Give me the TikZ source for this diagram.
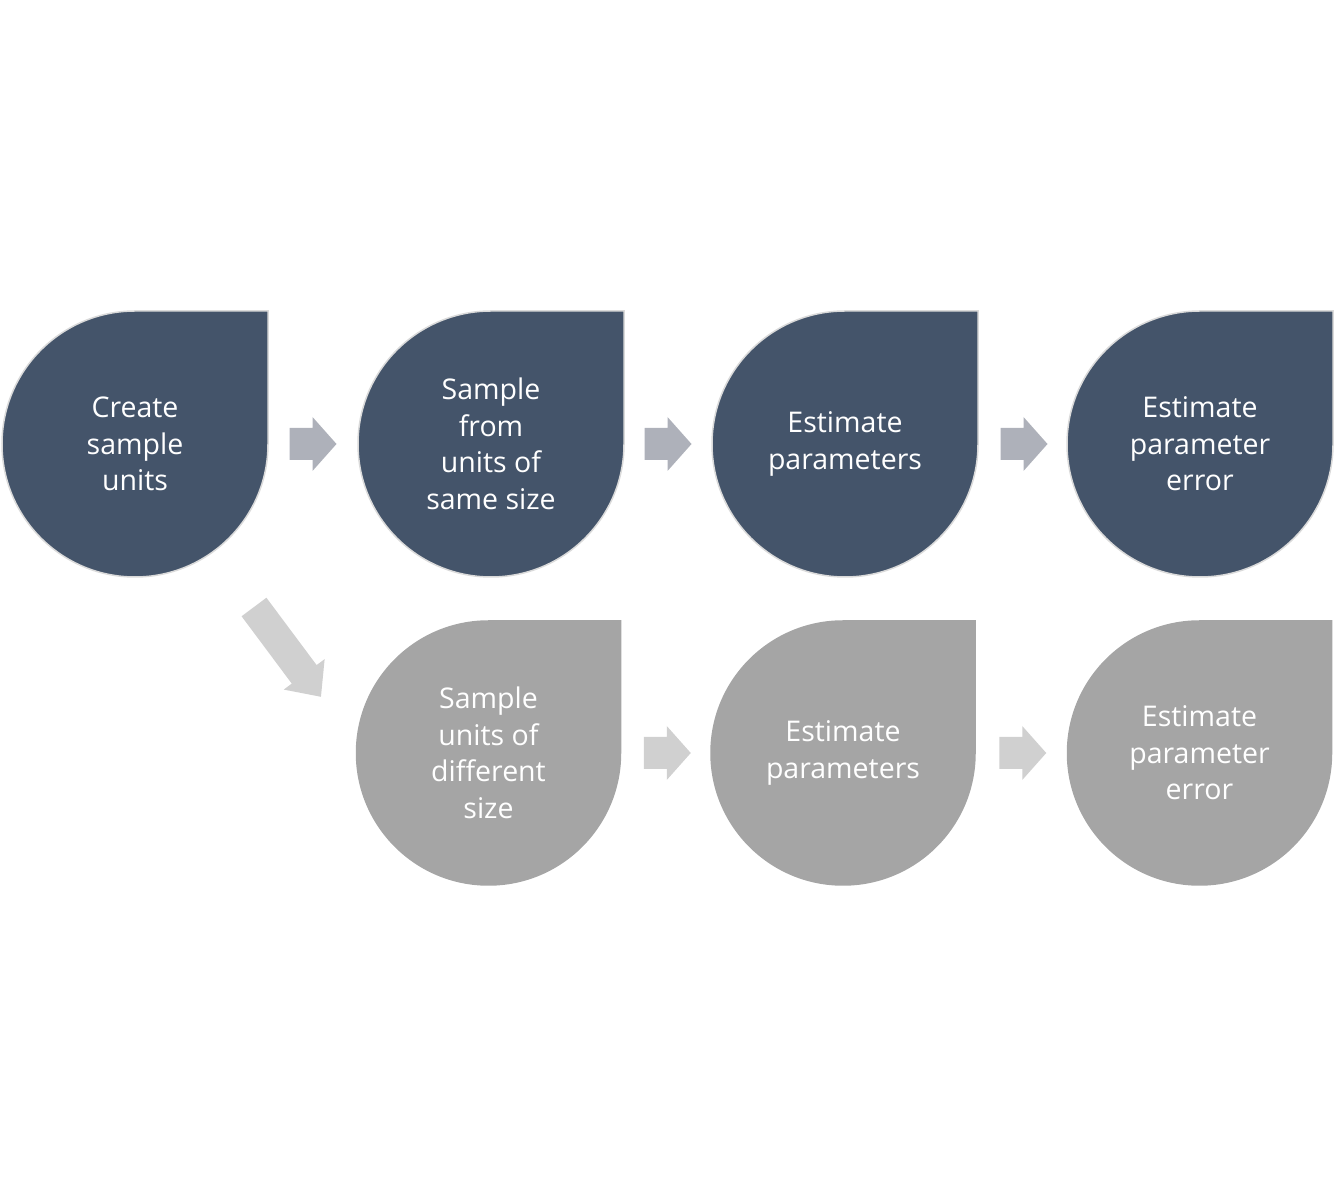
\documentclass[tikz,border=0pt]{standalone}
\usepackage{fontspec}
\setmainfont{Open Sans}
\usetikzlibrary{calc}
\definecolor{darkfill}{HTML}{44546A}
\definecolor{grayfill}{HTML}{A5A5A5}
\definecolor{edgegray}{HTML}{DADADA}
\definecolor{arrowdark}{HTML}{AEB1BA}
\definecolor{arrowlight}{HTML}{D0D0D0}
\tikzset{
  droptext/.style={text=white, align=center, font=\fontsize{28.5}{36.5}\selectfont, inner sep=0pt},
  pics/drop/.style n args={3}{code={
    \fill[#1, draw=#2, line width=1.5pt] (#3,0) -- (#3,#3) -- (0,#3)
      arc[start angle=90, end angle=360, radius=#3] -- cycle;
  }},
  pics/blockarr/.style n args={4}{code={
    % #1 total length, #2 head length, #3 half shaft width, #4 half head width
    \fill (0,-#3) -- ({#1-#2},-#3) -- ({#1-#2},-#4) -- (#1,0) -- ({#1-#2},#4) -- ({#1-#2},#3) -- (0,#3) -- cycle;
  }},
}
\begin{document}
\begin{tikzpicture}[x=1pt,y=1pt]
\useasboundingbox (0,0) rectangle (1335,1197);
% top row shapes
\pic at (135,753) {drop={darkfill}{edgegray}{133}};
\pic at (491,753) {drop={darkfill}{edgegray}{133}};
\pic at (845,753) {drop={darkfill}{edgegray}{133}};
\pic at (1200,753) {drop={darkfill}{edgegray}{133}};
% bottom row shapes
\pic at (488.5,444) {drop={grayfill}{grayfill}{132}};
\pic at (843,444) {drop={grayfill}{grayfill}{132}};
\pic at (1199.5,444) {drop={grayfill}{grayfill}{132}};
% texts
\node[droptext] (t1) at (135,753) {Create\\sample\\units};
\node[droptext] (t2) at (491,753) {Sample\\from\\units of\\same size};
\node[droptext] (t3) at (845,753) {Estimate\\parameters};
\node[droptext] (t4) at (1200,753) {Estimate\\parameter\\error};
\node[droptext] (b1) at (488.5,444) {Sample\\units of\\different\\size};
\node[droptext] (b2) at (843,444) {Estimate\\parameters};
\node[droptext] (b3) at (1199.5,444) {Estimate\\parameter\\error};
% arrows
\path ($(t1)!0.5!(t2)+(-23.5,0)$) pic[arrowdark] {blockarr={47}{24}{16}{27}};
\path ($(t2)!0.5!(t3)+(-23.5,0)$) pic[arrowdark] {blockarr={47}{24}{16}{27}};
\path ($(t3)!0.5!(t4)+(-22,0)$) pic[arrowdark] {blockarr={47}{24}{16}{27}};
\path ($(b1)!0.5!(b2)+(-22,0)$) pic[arrowlight] {blockarr={47}{24}{16}{27}};
\path ($(b2)!0.5!(b3)+(-22,0)$) pic[arrowlight] {blockarr={47}{24}{16}{27}};
\coordinate (dtail) at (254,590);
\path (dtail) pic[arrowlight, rotate=-53.3] {blockarr={112}{28}{15.5}{25.5}};
\end{tikzpicture}
\end{document}
